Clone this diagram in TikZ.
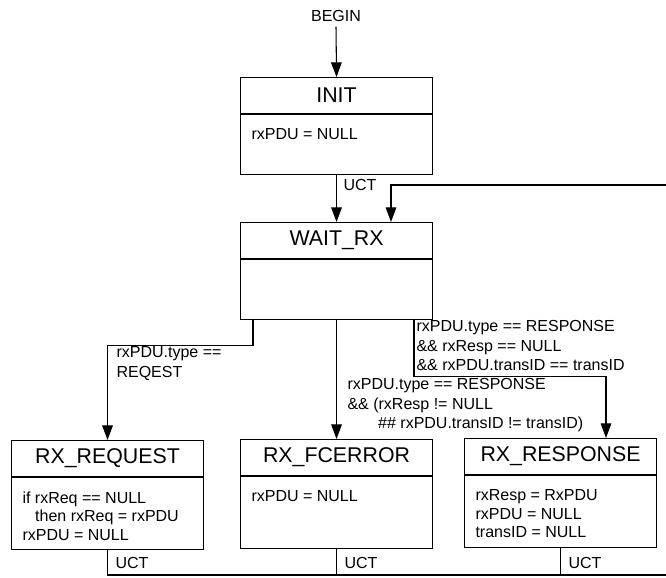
\documentclass[tikz,border=0pt]{standalone}
\usepackage{fontspec}
\setmainfont{Liberation Sans}
\usetikzlibrary{arrows.meta,calc}

\begin{document}
\begin{tikzpicture}[x=0.75pt,y=-0.75pt,
  line width=0.8pt,
  every node/.style={font=\fontsize{12}{14}\selectfont},
  statehead/.style={draw, minimum width=144pt, minimum height=27pt, inner sep=0pt,
                    anchor=north west, font=\fontsize{16}{19}\selectfont},
  statebody/.style={draw, minimum width=144pt, inner sep=0pt, anchor=north},
  bodytext/.style={anchor=north west, inner sep=0pt, align=left,
                   font=\fontsize{12}{13.8}\selectfont},
  guard/.style={anchor=north west, inner sep=0pt, align=left,
                font=\fontsize{12}{14.6}\selectfont},
  lbl/.style={anchor=west, inner sep=0pt},
  arr/.style={-{Triangle[length=11pt,width=8pt]}},
]
\useasboundingbox (0,0) rectangle (666,577);

% ---------- states ----------
\node[statehead] (init) at (240,77) {INIT};
\node[statebody, minimum height=45pt] (init body) at (init.south) {};
\node[bodytext] (init act) at ($(init body.north west)+(11,14)$) {rxPDU = NULL};

\node[statehead] (wait) at (240,222) {WAIT\_RX};
\node[statebody, minimum height=45pt] (wait body) at (wait.south) {};

\node[statehead] (req) at (11,440) {RX\_REQUEST};
\node[statebody, minimum height=54pt] (req body) at (req.south) {};
\node[bodytext] (req act) at ($(req body.north west)+(11,14)$)
  {if rxReq == NULL\\\hspace*{9.5pt}then rxReq = rxPDU\\rxPDU = NULL};

\node[statehead] (fce) at (240,439) {RX\_FCERROR};
\node[statebody, minimum height=54pt] (fce body) at (fce.south) {};
\node[bodytext] (fce act) at ($(fce body.north west)+(11,14)$) {rxPDU = NULL};

\node[statehead] (resp) at (464,438) {RX\_RESPONSE};
\node[statebody, minimum height=54pt] (resp body) at (resp.south) {};
\node[bodytext] (resp act) at ($(resp body.north west)+(11,14)$)
  {rxResp = RxPDU\\rxPDU = NULL\\transID = NULL};

% ---------- entry ----------
\node (begin) at (336,16) {BEGIN};
\draw[arr] (begin.south) -- (init.north);

% ---------- INIT -> WAIT_RX ----------
\draw[arr] (init body.south) -- (wait.north);
\node[lbl] (uct0) at (343,185) {UCT};

% ---------- return from the bottom loop ----------
\coordinate (loopin) at (666,185);
\coordinate (loopout) at (666,575);
\draw[arr] (loopin) -| ($(wait.north west)+(151,0)$);

% ---------- WAIT_RX branches ----------
\draw[arr] ($(wait body.south west)+(13,0)$) -- ++(0,25) -| (req.north);
\node[guard] (g1) at (116,346) {rxPDU.type ==\\REQEST};

\draw[arr] (wait body.south) -- (fce.north);
\node[guard] (g2) at (347,378)
  {rxPDU.type == RESPONSE\\\&\& (rxResp != NULL\\\hspace*{23pt}\#\# rxPDU.transID != transID)};

\draw[arr] ($(wait body.south west)+(174,0)$) -- ++(0,56) -| ($(resp.north west)+(142,0)$);
\node[guard] (g3) at (416,320)
  {rxPDU.type == RESPONSE\\\&\& rxResp == NULL\\\&\& rxPDU.transID == transID};

% ---------- unconditional returns ----------
\draw (req body.south) |- (loopout);
\draw (fce body.south) -- (fce body.south |- loopout);
\draw (resp body.south) -- (resp body.south |- loopout);
\node[lbl] (uct1) at (115,563) {UCT};
\node[lbl] (uct2) at (344,563) {UCT};
\node[lbl] (uct3) at (568,563) {UCT};
\end{tikzpicture}
\end{document}
